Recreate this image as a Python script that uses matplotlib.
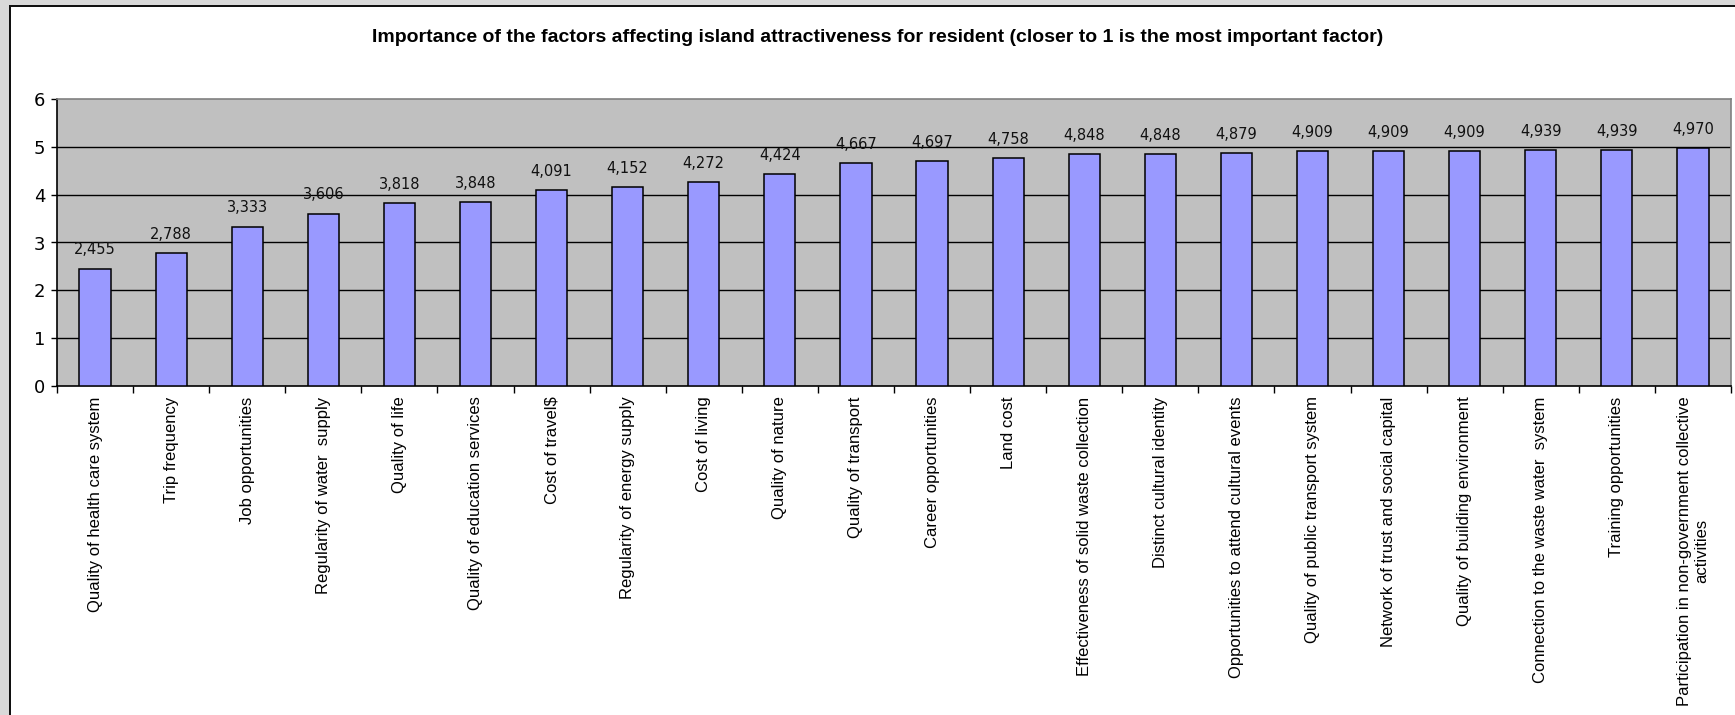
import matplotlib
matplotlib.use("Agg")
import matplotlib.pyplot as plt
from matplotlib.patches import Rectangle

plt.rcParams['font.family'] = ['Liberation Sans', 'DejaVu Sans']

factors = [
    "Quality of health care system",
    "Trip frequency",
    "Job opportunities",
    "Regularity of water  supply",
    "Quality of life",
    "Quality of education services",
    "Cost of travel$",
    "Regularity of energy supply",
    "Cost of living",
    "Quality of nature",
    "Quality of transport",
    "Career opportunities",
    "Land cost",
    "Effectiveness of solid waste collection",
    "Distinct cultural identity",
    "Opportunities to attend cultural events",
    "Quality of public transport system",
    "Network of trust and social capital",
    "Quality of building environment",
    "Connection to the waste water  system",
    "Training opportunities",
    "Participation in non-government collective\nactivities",
]
scores = [2.455, 2.788, 3.333, 3.606, 3.818, 3.848, 4.091, 4.152, 4.272, 4.424,
          4.667, 4.697, 4.758, 4.848, 4.848, 4.879, 4.909, 4.909, 4.909, 4.939,
          4.939, 4.970]
y_ticks = [0, 1, 2, 3, 4, 5, 6]
title = ("Importance of the factors affecting island attractiveness for resident "
         "(closer to 1 is the most important factor)")

W, H = 1735, 715
fig = plt.figure(figsize=(W / 100, H / 100), dpi=100)
fig.patch.set_facecolor("white")

# outer frame: grey margins with a dark border line
gray = "#d9d9d9"
fig.add_artist(Rectangle((0, 0), 8.5 / W, 1, transform=fig.transFigure,
                         facecolor=gray, edgecolor="none", zorder=0))
fig.add_artist(Rectangle((0, 1 - 4.5 / H), 1, 4.5 / H, transform=fig.transFigure,
                         facecolor=gray, edgecolor="none", zorder=0))
fig.add_artist(Rectangle((8.5 / W, 0), 2 / W, 1 - 4.5 / H, transform=fig.transFigure,
                         facecolor="#111111", edgecolor="none", zorder=1))
fig.add_artist(Rectangle((8.5 / W, 1 - 6.5 / H), 1, 2 / H, transform=fig.transFigure,
                         facecolor="#111111", edgecolor="none", zorder=1))

left, right, top, bottom = 57, 1731, 99, 386
ax = fig.add_axes([left / W, 1 - bottom / H, (right - left) / W, (bottom - top) / H])
ax.set_facecolor("#c0c0c0")

x = list(range(len(factors)))
ax.bar(x, scores, width=0.41, color="#9999ff", edgecolor="black", linewidth=1.1, zorder=3)

for xi, v in zip(x, scores):
    ax.annotate(f"{v:.3f}".replace(".", ","), xy=(xi, v), xytext=(0, 8),
                textcoords="offset points", ha="center", va="bottom",
                fontsize=10.5, family="DejaVu Sans", color="#111111")

ax.set_xlim(-0.5, len(factors) - 0.5)
ax.set_ylim(0, 6)
ax.set_yticks(y_ticks)
ax.set_yticklabels([str(t) for t in y_ticks], fontsize=13, family="DejaVu Sans")
for g in y_ticks[1:-1]:
    ax.axhline(g, color="black", linewidth=1.0, zorder=1)

ax.set_xticks([i - 0.5 for i in range(len(factors) + 1)])
ax.set_xticklabels([])
ax.set_xticks(x, minor=True)
ax.set_xticklabels(factors, minor=True, rotation=90, fontsize=12,
                   multialignment="center")
ax.tick_params(axis="x", which="major", direction="out", length=5, width=1)
ax.tick_params(axis="x", which="minor", length=0, pad=7.5)
ax.tick_params(axis="y", direction="out", length=4.5, width=1, pad=4)

ax.spines["left"].set_color("black")
ax.spines["bottom"].set_color("black")
ax.spines["top"].set_color("#808080")
ax.spines["right"].set_color("#808080")
for s in ax.spines.values():
    s.set_linewidth(1.2)

fig.text(878 / W, 1 - 37 / H, title, ha="center", va="center",
         fontsize=14, fontweight="bold")

fig.savefig("out.png", dpi=100)
